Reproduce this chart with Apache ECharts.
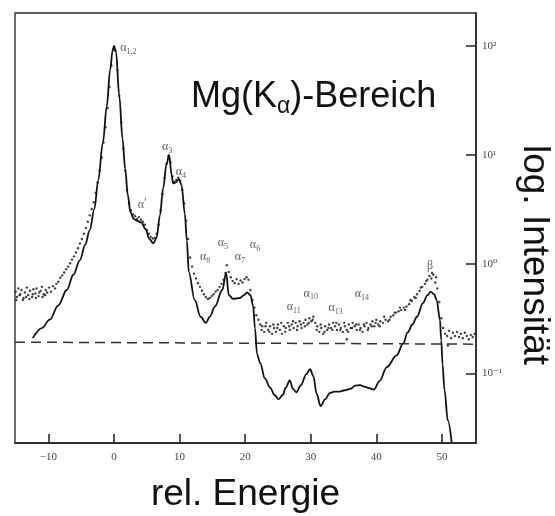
<!DOCTYPE html>
<html>
<head>
<meta charset="utf-8">
<script src="https://cdn.jsdelivr.net/npm/echarts@6/dist/echarts.min.js"></script>
<style>
  html, body { margin: 0; padding: 0; background: #fff; }
  #chart { width: 555px; height: 516px; }
</style>
</head>
<body>
<div id="chart"></div>
<script>
// Calculated Mg Kα spectrum (solid line), relative energy vs. intensity
const curveE = [-12.4, -11.0, -9.8, -8.5, -7.2, -6.2, -5.2, -4.4, -3.7, -3.0, -2.4, -1.7, -1.1, -0.6, -0.2, 0.0, 0.3, 0.8, 1.3, 1.7,
  2.1, 2.5, 3.0, 3.5, 4.2, 4.8, 5.4, 6.0, 6.5, 7.0, 7.5, 8.0, 8.4, 8.8, 9.0, 9.4, 9.9, 10.3, 10.8, 11.1,
  11.4, 12.3, 13.2, 14.0, 14.6, 15.4, 16.5, 17.1, 17.5, 18.2, 19.2, 19.8, 20.3, 20.8, 21.2, 21.5, 21.8, 22.3, 23.0, 23.8,
  24.5, 25.1, 25.7, 26.2, 26.8, 27.3, 27.8, 28.5, 29.3, 29.9, 30.4, 30.9, 31.5, 32.2, 32.9, 33.6, 34.4, 35.2, 36.0, 36.8,
  37.5, 38.3, 39.0, 39.6, 40.5, 41.6, 43.1, 44.1, 44.8, 45.5, 46.2, 47.1, 47.8, 48.3, 48.8, 49.2, 49.7, 49.9, 50.1, 50.4,
  50.9, 51.5];
const curveI = [0.21, 0.26, 0.31, 0.42, 0.58, 0.80, 1.09, 1.5, 2.05, 3.2, 5.9, 13, 28, 60, 92, 100, 88, 35, 14, 7.5,
  4.3, 3.0, 2.6, 2.5, 2.4, 2.1, 1.7, 1.55, 1.75, 2.8, 5.0, 8.2, 10.0, 6.5, 5.5, 5.6, 6.0, 5.3, 2.9, 1.66,
  0.85, 0.47, 0.33, 0.29, 0.33, 0.41, 0.58, 0.83, 0.52, 0.48, 0.49, 0.52, 0.55, 0.52, 0.42, 0.26, 0.15, 0.124, 0.09, 0.074,
  0.063, 0.058, 0.063, 0.074, 0.086, 0.072, 0.067, 0.078, 0.098, 0.109, 0.094, 0.065, 0.050, 0.058, 0.066, 0.068, 0.068, 0.070, 0.072, 0.077,
  0.078, 0.075, 0.073, 0.071, 0.085, 0.114, 0.146, 0.188, 0.238, 0.28, 0.33, 0.44, 0.52, 0.56, 0.53, 0.47, 0.31, 0.20, 0.12, 0.07,
  0.037, 0.023];

// Measured spectrum (dots)
const dotE = [-15.0, -14.8, -14.6, -14.3, -14.1, -13.8, -13.6, -13.3, -13.1, -12.8, -12.5, -12.3, -12.0, -11.8, -11.5, -11.2, -11.0, -10.7, -10.4, -10.2,
  -9.9, -9.6, -9.3, -9.0, -8.8, -8.5, -8.2, -7.9, -7.6, -7.3, -7.0, -6.7, -6.4, -6.1, -5.8, -5.5, -5.2, -4.9, -4.6, -4.3,
  -4.0, -3.7, -3.4, -3.1, -2.8, -2.5, -2.2, -1.9, -1.6, -1.3, -1.0, -0.7, -0.4, -0.1, 0.2, 0.5, 0.8, 1.1, 1.4, 1.7,
  2.0, 2.3, 2.6, 2.9, 3.2, 3.5, 3.8, 4.1, 4.4, 4.7, 5.0, 5.3, 5.6, 5.9, 6.2, 6.5, 6.8, 7.1, 7.4, 7.7,
  8.0, 8.3, 8.6, 8.9, 9.2, 9.5, 9.8, 10.1, 10.4, 10.7, 11.0, 11.3, 11.6, 11.9, 12.2, 12.5, 12.8, 13.1, 13.4, 13.7,
  14.0, 14.3, 14.6, 14.9, 15.2, 15.5, 15.8, 16.1, 16.4, 16.7, 17.0, 17.2, 17.5, 17.8, 18.1, 18.4, 18.7, 19.0, 19.3, 19.6,
  19.9, 20.2, 20.5, 20.8, 21.1, 21.4, 21.7, 22.0, 22.3, 22.6, 22.9, 23.2, 23.5, 23.8, 24.1, 24.4, 24.7, 25.0, 25.3, 25.6,
  25.9, 26.2, 26.5, 26.8, 27.1, 27.4, 27.7, 28.0, 28.3, 28.6, 28.9, 29.2, 29.5, 29.8, 30.1, 30.4, 30.7, 31.0, 31.3, 31.6,
  31.9, 32.2, 32.5, 32.8, 33.1, 33.4, 33.7, 34.0, 34.3, 34.6, 34.9, 35.2, 35.5, 35.8, 36.1, 36.4, 36.7, 37.0, 37.3, 37.6,
  37.9, 38.2, 38.5, 38.8, 39.1, 39.4, 39.7, 40.0, 40.3, 40.6, 41.0, 41.4, 41.8, 42.2, 42.6, 43.0, 43.4, 43.8, 44.2, 44.6,
  45.0, 45.4, 45.8, 46.2, 46.6, 47.0, 47.4, 47.8, 48.1, 48.4, 48.7, 49.0, 49.3, 49.6, 49.9, 50.2, 50.5, 50.8, 51.1, 51.4,
  51.7, 52.0, 52.3, 52.6, 52.9, 53.2, 53.5, 53.8, 54.1, 54.4, 54.7, 55.0,
  -14.9, -14.4, -13.9, -13.4, -12.9, -12.4, -11.9, -11.4, -10.9, -10.5,
  22.5, 23.1, 23.7, 24.3, 24.9, 25.5, 26.1, 26.7, 27.3, 27.9, 28.5, 29.1, 29.7, 30.3, 30.9, 31.5, 32.1, 32.7, 33.3, 33.9,
  34.5, 35.1, 35.7, 36.3, 36.9, 37.5, 38.1, 38.7, 39.3, 39.9, 40.5, 35.5,
  41.2, 42.0, 42.8, 43.6, 44.4, 45.2, 46.0, 46.8, 47.6, 48.5, 49.1, 50.9];
const dotI = [0.56, 0.50, 0.60, 0.53, 0.58, 0.49, 0.55, 0.61, 0.52, 0.57, 0.50, 0.59, 0.54, 0.60, 0.51, 0.57, 0.62, 0.53, 0.58, 0.55,
  0.61, 0.56, 0.63, 0.60, 0.66, 0.69, 0.75, 0.79, 0.84, 0.90, 0.95, 1.02, 1.10, 1.18, 1.28, 1.40, 1.55, 1.70, 1.90, 2.15,
  2.45, 2.8, 3.2, 3.7, 4.5, 5.6, 7.2, 9.5, 13, 18, 27, 42, 66, 92, 90, 60, 35, 20, 11.5, 7.2,
  4.8, 3.6, 3.1, 2.85, 2.75, 2.6, 2.7, 2.55, 2.45, 2.3, 2.05, 1.9, 1.78, 1.72, 1.74, 1.9, 2.3, 3.1, 4.4, 6.2,
  8.3, 9.8, 8.6, 6.4, 5.7, 5.9, 6.2, 5.8, 4.8, 3.6, 2.5, 1.7, 1.15, 0.95, 0.82, 0.74, 0.67, 0.62, 0.57, 0.53,
  0.50, 0.48, 0.49, 0.51, 0.53, 0.56, 0.58, 0.62, 0.66, 0.72, 0.83, 0.98, 0.85, 0.76, 0.70, 0.67, 0.73, 0.66, 0.71, 0.68,
  0.73, 0.76, 0.72, 0.58, 0.47, 0.40, 0.34, 0.31, 0.28, 0.27, 0.24, 0.29, 0.25, 0.27, 0.23, 0.26, 0.24, 0.28, 0.25, 0.23,
  0.27, 0.26, 0.29, 0.25, 0.28, 0.26, 0.29, 0.27, 0.30, 0.26, 0.29, 0.31, 0.28, 0.32, 0.30, 0.33, 0.29, 0.27, 0.24, 0.26,
  0.23, 0.27, 0.25, 0.28, 0.26, 0.29, 0.27, 0.25, 0.28, 0.26, 0.24, 0.27, 0.25, 0.28, 0.26, 0.29, 0.27, 0.25, 0.28, 0.26,
  0.24, 0.27, 0.29, 0.26, 0.28, 0.30, 0.27, 0.31, 0.28, 0.30, 0.29, 0.31, 0.30, 0.33, 0.34, 0.36, 0.37, 0.38, 0.40, 0.41,
  0.43, 0.46, 0.50, 0.53, 0.57, 0.62, 0.66, 0.72, 0.78, 0.74, 0.80, 0.68, 0.60, 0.45, 0.32, 0.26, 0.23, 0.22, 0.245, 0.21,
  0.235, 0.22, 0.24, 0.215, 0.23, 0.21, 0.235, 0.22, 0.205, 0.225, 0.215, 0.23,
  0.47, 0.52, 0.47, 0.50, 0.48, 0.53, 0.49, 0.55, 0.50, 0.52,
  0.25, 0.27, 0.24, 0.28, 0.26, 0.29, 0.24, 0.27, 0.30, 0.25, 0.28, 0.27, 0.29, 0.31, 0.25, 0.28, 0.24, 0.26, 0.25, 0.29,
  0.25, 0.29, 0.24, 0.26, 0.28, 0.25, 0.28, 0.25, 0.27, 0.29, 0.27, 0.205,
  0.33, 0.31, 0.36, 0.40, 0.38, 0.47, 0.49, 0.61, 0.70, 0.83, 0.76, 0.18];

// Background level (dashed)
const baseE = [-15.1, 55.2];
const baseI = [0.193, 0.185];

// Line designations: symbol, index, position (energy, intensity)
const peakSym = ['α', 'α', 'α', 'α', 'α', 'α', 'α', 'α', 'α', 'α', 'α', 'α', 'β'];
const peakIdx = ['1,2', '3', '4', '′', '8', '5', '7', '6', '11', '10', '13', '14', ''];
const peakE = [2.2, 8.1, 10.2, 4.3, 13.9, 16.6, 19.2, 21.5, 27.4, 30.0, 33.8, 37.8, 48.2];
const peakI = [96, 11.8, 7.0, 3.5, 1.16, 1.56, 1.16, 1.49, 0.41, 0.54, 0.40, 0.53, 0.96];

// Axis ticks
const xTicks = [-10, 0, 10, 20, 30, 40, 50];
const yTicks = [0.1, 1, 10, 100];
const yTickText = ['10⁻¹', '10⁰', '10¹', '10²'];

const xMin = -15.1, xMax = 55.2;
const yMin = 0.023, yMax = 200;

const serif = '"Liberation Serif", "DejaVu Serif", serif';
const sans = '"Liberation Sans", Arial, sans-serif';

const chart = echarts.init(document.getElementById('chart'), null, { renderer: 'canvas' });

const zip = (a, b) => a.map((v, i) => [v, b[i]]);

chart.setOption({
  animation: false,
  backgroundColor: '#fff',
  title: {
    text: '{n|Mg(K}{s|α}{n|)-Bereich}',
    left: 186,
    top: 71,
    textStyle: {
      fontWeight: 'normal',
      rich: {
        n: { fontFamily: sans, fontSize: 36, fontWeight: 'normal', color: '#111', lineHeight: 42 },
        s: { fontFamily: sans, fontSize: 23, fontWeight: 'normal', color: '#111', lineHeight: 42, verticalAlign: 'bottom', padding: [15, 0, 0, 0] }
      }
    }
  },
  grid: {
    left: 15, right: 79, top: 13, bottom: 73,
    show: true, borderColor: '#222', borderWidth: 1.3,
    outerBoundsMode: 'none'
  },
  xAxis: {
    type: 'value', min: xMin, max: xMax,
    name: 'rel. Energie', nameLocation: 'middle', nameGap: 33,
    nameTextStyle: { fontFamily: sans, fontSize: 37, color: '#111' },
    axisLine: { onZero: false, lineStyle: { color: '#222', width: 1.5 } },
    axisTick: { inside: true, length: 9, customValues: xTicks, lineStyle: { color: '#222', width: 1.5 } },
    axisLabel: {
      customValues: xTicks, margin: 9,
      fontFamily: serif, fontSize: 11, color: '#444',
      formatter: v => String(v).replace('-', '−')
    },
    splitLine: { show: false }
  },
  yAxis: {
    type: 'log', logBase: 10, min: yMin, max: yMax, position: 'right',
    axisLine: { show: true, onZero: false, lineStyle: { color: '#222', width: 1.5 } },
    axisTick: { show: true, inside: true, length: 10, customValues: yTicks, lineStyle: { color: '#222', width: 1.5 } },
    axisLabel: {
      show: true, customValues: yTicks, margin: 6,
      fontFamily: serif, fontSize: 11, color: '#444',
      formatter: v => yTickText[yTicks.findIndex(t => Math.abs(t - v) / t < 1e-6)] || ''
    },
    splitLine: { show: false },
    minorTick: { show: false }
  },
  graphic: [{
    type: 'text',
    x: 534, y: 255,
    rotation: -Math.PI / 2,
    style: {
      text: 'log. Intensität',
      fontFamily: sans, fontSize: 37, fill: '#111',
      align: 'center', verticalAlign: 'middle'
    }
  }],
  series: [
    {
      type: 'line', name: 'Untergrund',
      data: zip(baseE, baseI),
      symbol: 'none',
      lineStyle: { color: '#333', width: 1.5, type: [10, 6] },
      z: 2
    },
    {
      type: 'scatter', name: 'Messung',
      data: zip(dotE, dotI),
      symbol: 'circle', symbolSize: 2.4,
      itemStyle: { color: '#111' },
      z: 3
    },
    {
      type: 'line', name: 'Rechnung',
      data: zip(curveE, curveI),
      symbol: 'none', smooth: 0.35, smoothMonotone: 'x',
      lineStyle: { color: '#111', width: 1.8 },
      z: 4
    },
    {
      type: 'scatter', name: 'Linien',
      data: peakE.map((e, i) => ({ value: [e, peakI[i]], name: String(i) })),
      symbolSize: 0,
      silent: true,
      label: {
        show: true, position: [0, 0], align: 'center', verticalAlign: 'middle',
        formatter: p => {
          const i = Number(p.name);
          const sub = peakIdx[i];
          if (sub === '′') return '{a|' + peakSym[i] + '}{p|′}';
          return sub ? '{a|' + peakSym[i] + '}{s|' + sub + '}' : '{a|' + peakSym[i] + '}';
        },
        rich: {
          a: { fontFamily: serif, fontSize: 12, color: '#333', lineHeight: 16 },
          s: { fontFamily: serif, fontSize: 8, color: '#333', lineHeight: 16, verticalAlign: 'bottom', padding: [6, 0, 0, 0] },
          p: { fontFamily: serif, fontSize: 12, color: '#333', lineHeight: 16, padding: [0, 0, 4, 0] }
        }
      },
      z: 5
    }
  ]
});
</script>
</body>
</html>
